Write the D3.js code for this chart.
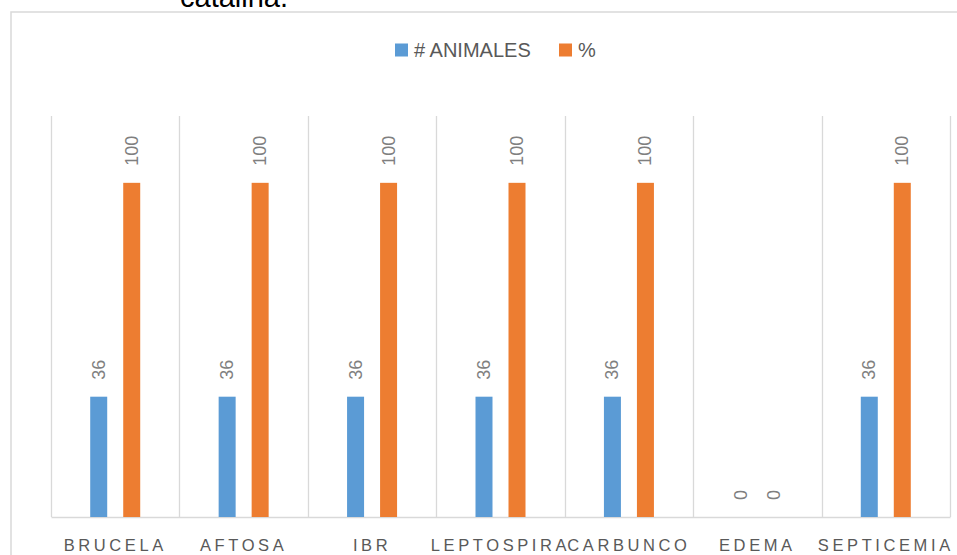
<!DOCTYPE html>
<html>
<head>
<meta charset="utf-8">
<script src="https://cdn.jsdelivr.net/npm/d3@7"></script>
<style>
  html, body { margin: 0; padding: 0; background: #fff; overflow: hidden; }
  svg { display: block; }
</style>
</head>
<body>
<svg id="chart" width="957" height="555"></svg>
<script>
const categories = ["BRUCELA", "AFTOSA", "IBR", "LEPTOSPIRA", "CARBUNCO", "EDEMA", "SEPTICEMIA"];
const seriesNames = ["# ANIMALES", "%"];
const animales = [36, 36, 36, 36, 36, 0, 36];
const porcentaje = [100, 100, 100, 100, 100, 0, 100];
const seriesColors = ["#5b9bd5", "#ed7d31"];
const titleText = "catalina.";

const svg = d3.select("#chart");
const W = 957, H = 555;
const plot = { left: 51, right: 950, top: 116, bottom: 517 };

// Outer chart frame
svg.append("rect")
  .attr("x", 11).attr("y", 12)
  .attr("width", W + 20).attr("height", H + 20)
  .attr("fill", "#fff")
  .attr("stroke", "#d9d9d9").attr("stroke-width", 1.5);

// Cropped title (cut off at the top as in the source)
svg.append("text")
  .attr("x", 180).attr("y", 6.5)
  .attr("font-family", "Liberation Sans, Arial, sans-serif")
  .attr("font-size", 29)
  .attr("fill", "#000")
  .text(titleText);

const x0 = d3.scaleBand().domain(categories).range([plot.left, plot.right]).paddingInner(0).paddingOuter(0);
const bw = x0.bandwidth();
const x1 = d3.scaleBand().domain(seriesNames)
  .range([bw / 2 - 25, bw / 2 + 25]).paddingInner(0.485).paddingOuter(0);
const y = d3.scaleLinear().domain([0, 120]).range([plot.bottom, plot.top]);

// Category separators (vertical gridlines)
const bounds = categories.map(c => x0(c)).concat([plot.right]);
svg.append("g").selectAll("line").data(bounds).join("line")
  .attr("x1", d => Math.round(d) + 0.5).attr("x2", d => Math.round(d) + 0.5)
  .attr("y1", plot.top).attr("y2", plot.bottom)
  .attr("stroke", "#d9d9d9").attr("stroke-width", 1.3);

// Bottom axis
const xAxis = d3.axisBottom(x0).tickSize(0).tickPadding(0);
const gx = svg.append("g").attr("transform", `translate(0,${plot.bottom})`).call(xAxis);
gx.select(".domain").attr("stroke", "#d9d9d9").attr("stroke-width", 1.5);
gx.selectAll(".tick text")
  .attr("y", 34)
  .attr("dy", 0)
  .attr("font-family", "Liberation Sans, Arial, sans-serif")
  .attr("font-size", 16.5)
  .attr("letter-spacing", "3.6px")
  .attr("fill", "#595959");

// Data rows
const rows = categories.map((c, i) => ({ cat: c, values: [animales[i], porcentaje[i]] }));

const groups = svg.append("g").selectAll("g").data(rows).join("g")
  .attr("transform", d => `translate(${x0(d.cat)},0)`);

groups.selectAll("rect").data(d => d.values.map((v, j) => ({ name: seriesNames[j], v, j })))
  .join("rect")
  .attr("x", d => x1(d.name))
  .attr("width", x1.bandwidth())
  .attr("y", d => y(d.v))
  .attr("height", d => y(0) - y(d.v))
  .attr("fill", d => seriesColors[d.j]);

groups.selectAll("text").data(d => d.values.map((v, j) => ({ name: seriesNames[j], v, j })))
  .join("text")
  .attr("transform", d => `translate(${x1(d.name) + x1.bandwidth() / 2},${y(d.v) - 17}) rotate(-90)`)
  .attr("text-anchor", "start")
  .attr("dominant-baseline", "central")
  .attr("font-family", "Liberation Sans, Arial, sans-serif")
  .attr("font-size", 18)
  .attr("fill", "#7f7f7f")
  .text(d => d.v);

// Legend
const legend = svg.append("g");
const legendItems = [
  { name: seriesNames[0], color: seriesColors[0], x: 395, tx: 414 },
  { name: seriesNames[1], color: seriesColors[1], x: 559, tx: 578 }
];
legendItems.forEach(it => {
  legend.append("rect").attr("x", it.x).attr("y", 43.5).attr("width", 13).attr("height", 13).attr("fill", it.color);
  legend.append("text").attr("x", it.tx).attr("y", 57.3)
    .attr("font-family", "Liberation Sans, Arial, sans-serif")
    .attr("font-size", 20).attr("fill", "#595959").text(it.name);
});
</script>
</body>
</html>
